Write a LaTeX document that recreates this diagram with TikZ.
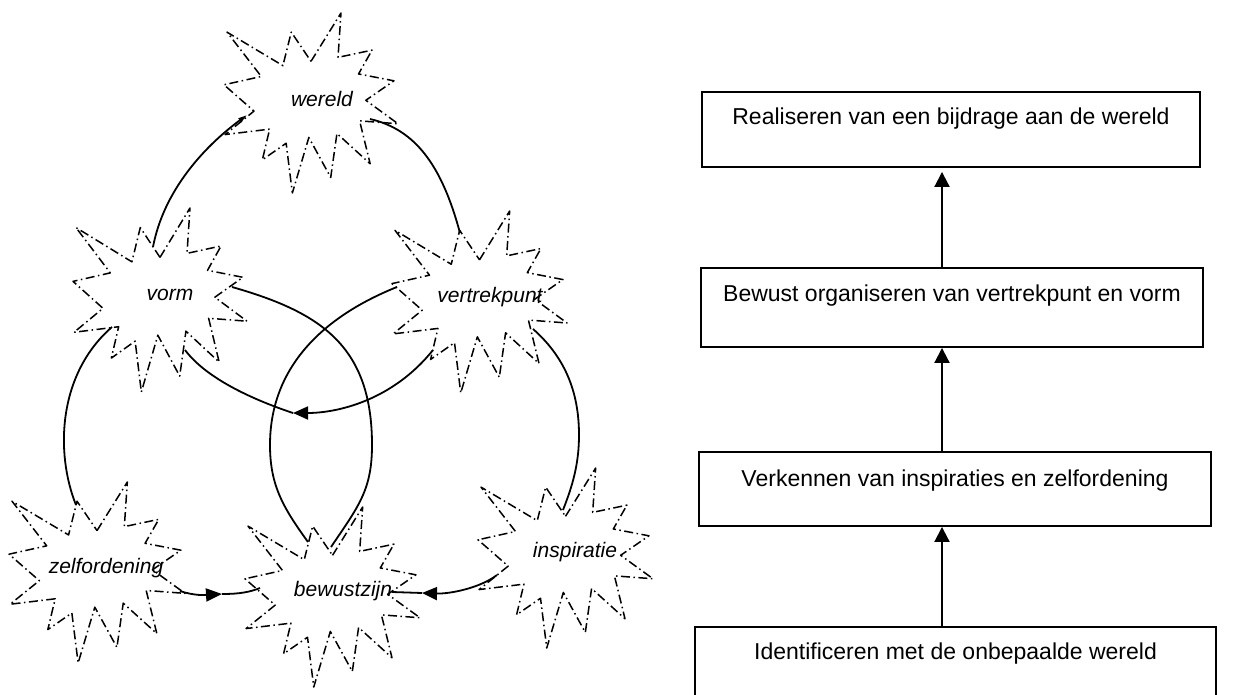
\documentclass[tikz,border=0pt]{standalone}
\usepackage{fontspec}
\setmainfont{Liberation Sans}
\usetikzlibrary{arrows.meta}

% one explosion outline, placed by its top-left corner and its size
\newcommand\burst[4]{%
  \begin{scope}[shift={(#1,#2)}, xscale=#3/216, yscale=#4/216]
    \draw[burstline] (108,58) -- (145.22,0) -- (141.55,53.25) -- (183.80,44.57)
      -- (167.02,73.15) -- (210.97,81.37) -- (176.07,104.75) -- (216,132.90)
      -- (168.37,129.42) -- (181.45,180.95) -- (140.20,144.57) -- (132.47,197.37)
      -- (105.32,149.35) -- (84.85,216) -- (77.15,156.27) -- (47.62,176.17)
      -- (56.67,139.37) -- (1.35,145.87) -- (37.22,117.75) -- (0,86.15)
      -- (46.27,76.17) -- (3.70,22.95) -- (73.12,63.20) -- (83.52,22.95) -- cycle;
  \end{scope}}

\tikzset{
  burstline/.style={line width=1.5pt, line join=round,
    dash pattern=on 9pt off 3.5pt on 1.5pt off 3.5pt},
  burstlabel/.style={anchor=base, inner sep=0pt,
    font=\itshape\fontsize{21}{25}\selectfont},
  link/.style={line width=1.8pt},
  bigtip/.style={-{Triangle[length=15pt,width=13pt]}},
  stagebox/.style={draw, line width=1.9pt, inner xsep=0pt, inner ysep=0pt,
    font=\fontsize{23}{28}\selectfont},
  flow/.style={line width=2pt, -{Triangle[length=15pt,width=15pt]}}
}

\begin{document}
\begin{tikzpicture}[x=1pt, y=-1pt]
\useasboundingbox (0,0) rectangle (1233,695);

% ---- left: six explosions ----
\burst{224}{13}{174}{180}
\burst{73}{208}{174}{184}
\burst{392}{211}{175}{182}
\burst{9}{482}{176}{181}
\burst{245}{507}{175}{180}
\burst{478}{468}{175}{180}

\node[burstlabel] (wereld) at (322,107) {wereld};
\node[burstlabel] (vorm) at (170,300) {vorm};
\node[burstlabel] (vertrekpunt) at (490,302) {vertrekpunt};
\node[burstlabel] (zelfordening) at (106,573) {zelfordening};
\node[burstlabel] (bewustzijn) at (343,596) {bewustzijn};
\node[burstlabel] (inspiratie) at (575,557) {inspiratie};

% attachment points on the outlines
\coordinate (vorm-n) at (153,247);
\coordinate (vorm-e) at (232,287);
\coordinate (vorm-sw) at (112,327);
\coordinate (vorm-s) at (185,350);
\coordinate (wereld-w) at (247,115);
\coordinate (wereld-e) at (370,119);
\coordinate (vtr-n) at (460,233);
\coordinate (vtr-w) at (397,287);
\coordinate (vtr-sw) at (433,350);
\coordinate (vtr-se) at (533,329);
\coordinate (zelf-n) at (76,505);
\coordinate (zelf-e) at (180,591);
\coordinate (bew-nw) at (308,542);
\coordinate (bew-ne) at (331,547);
\coordinate (bew-w) at (260,588);
\coordinate (bew-e) at (392,592);
\coordinate (insp-n) at (563,510);
\coordinate (insp-w) at (497,575);
\coordinate (meet) at (293,413);
\coordinate (tip-l) at (222,594);
\coordinate (tip-r) at (422,593);

% arcs between the explosions
\draw[link, -{Triangle[length=9pt,width=4.5pt]}] (vorm-n) .. controls (163.5,191.5) and (203,147.5) .. (wereld-w);
\draw[link] (wereld-e) .. controls (415.5,129.5) and (441.8,165.4) .. (vtr-n);
\draw[link] (vorm-sw) .. controls (58,373.8) and (55,452.5) .. (zelf-n);
\draw[link] (vorm-e) .. controls (319.5,312) and (372,345) .. (372,445)
  .. controls (372,490) and (358.6,506.2) .. (bew-ne);
\draw[link] (vtr-w) .. controls (333,312.6) and (270,360) .. (270,445)
  .. controls (270,485) and (282.8,507.2) .. (bew-nw);
\draw[link] (vtr-se) .. controls (563.6,356) and (579,390) .. (579,435)
  .. controls (579,465) and (572,487) .. (insp-n);
\draw[link, bigtip] (vtr-sw) .. controls (393,400) and (338,413) .. (meet);
\draw[link] (vorm-s) .. controls (207.5,380) and (257,401) .. (meet);
\draw[link, -{Triangle[length=16pt,width=13pt]}] (zelf-e) .. controls (195,596) and (205,595) .. (tip-l);
\draw[link] (tip-l) .. controls (240,594) and (250,592) .. (bew-w);
\draw[link, bigtip] (insp-w) .. controls (480,588) and (450,594) .. (tip-r);
\draw[link] (tip-r) -- (bew-e);

% ---- right: four stages ----
\node[stagebox, minimum width=498pt, text height=33pt, text depth=42pt] (b1) at (951,129.5)
  {Realiseren van een bijdrage aan de wereld};
\node[stagebox, minimum width=502pt, text height=33pt, text depth=46pt] (b2) at (952,307.5)
  {Bewust organiseren van vertrekpunt en vorm};
\node[stagebox, minimum width=512pt, text height=34pt, text depth=40pt] (b3) at (955,489)
  {Verkennen van inspiraties en zelfordening};
\node[stagebox, minimum width=521pt, text height=32pt, text depth=51pt] (b4) at (955.5,668.5)
  {Identificeren met de onbepaalde wereld};

\coordinate (ax) at (942,0);
\draw[flow, shorten >=4pt] (b2.north -| ax) -- (b1.south -| ax);
\draw[flow] (b3.north -| ax) -- (b2.south -| ax);
\draw[flow] (b4.north -| ax) -- (b3.south -| ax);
\end{tikzpicture}
\end{document}
